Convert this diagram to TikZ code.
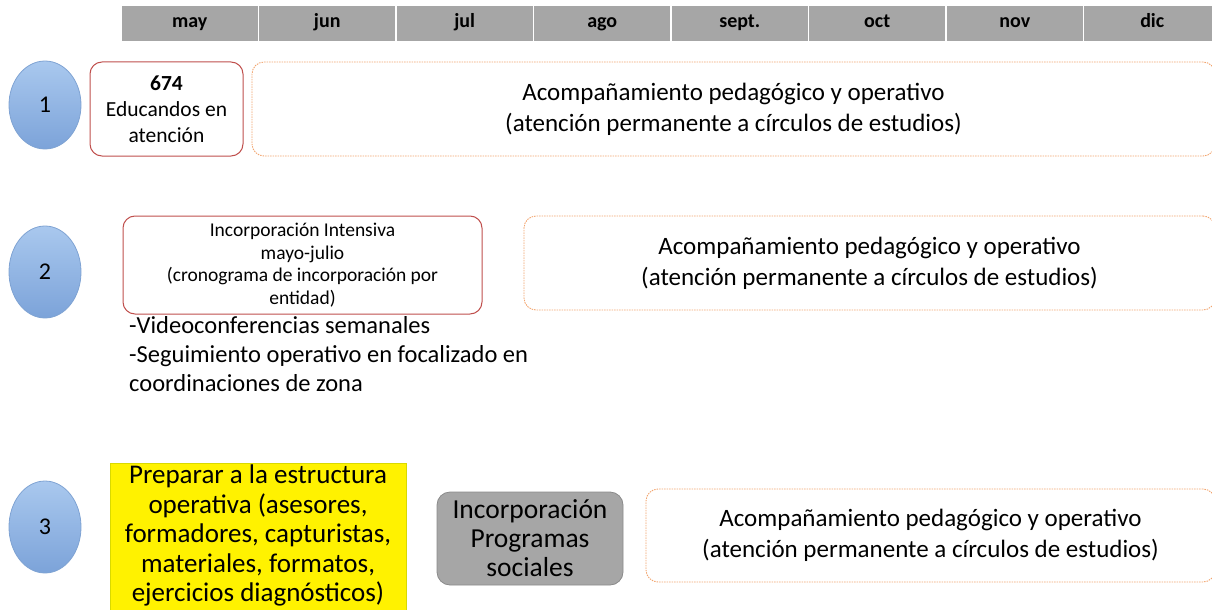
\documentclass[tikz,border=0pt]{standalone}
\usepackage{fontspec}
\setmainfont{Carlito}
\usetikzlibrary{shapes.geometric}
\definecolor{hdr}{HTML}{A6A6A6}
\definecolor{circT}{HTML}{A9C8EE}
\definecolor{circB}{HTML}{7CA3D9}
\definecolor{circL}{HTML}{7FA3D3}
\definecolor{redB}{HTML}{C0504D}
\definecolor{orangeB}{HTML}{F2A46E}
\definecolor{grayF}{HTML}{A6A6A6}
\definecolor{grayL}{HTML}{8A8A8A}
\definecolor{yellowL}{HTML}{D9D900}
\begin{document}
\begin{tikzpicture}[x=1pt,y=-1pt,
  month/.style={fill=hdr, draw=white, line width=1.2pt, minimum width=137.5pt, minimum height=37pt, inner sep=0pt, text height=13pt, text depth=4pt, font=\fontsize{20}{22}\selectfont\bfseries},
  num/.style={ellipse, draw=circL, line width=0.8pt, top color=circT, bottom color=circB, minimum width=72pt, minimum height=88pt, inner sep=0pt, font=\fontsize{24}{28}\selectfont},
  redbox/.style={draw=redB, line width=1pt, rounded corners=12pt, fill=white, align=center, inner sep=0pt},
  dashbox/.style={draw=orangeB, dash pattern=on 1.5pt off 1pt, line width=0.9pt, rounded corners=12pt, align=center, inner sep=0pt, font=\fontsize{25}{31}\selectfont},
  ybox/.style={fill=yellow, draw=yellowL, line width=0.6pt, inner sep=0pt},
  ytext/.style={align=center, inner sep=0pt, font=\fontsize{27}{29.5}\selectfont},
  gbox/.style={fill=grayF, draw=grayL, line width=0.8pt, rounded corners=13pt, align=center, inner sep=0pt, font=\fontsize{27.5}{29}\selectfont},
  notes/.style={align=left, inner sep=0pt, font=\fontsize{24.5}{29}\selectfont}
]
\useasboundingbox (0,0) rectangle (1212,610);
\clip (0,0) rectangle (1212,610);
% header
\foreach \m [count=\i from 0] in {may,jun,jul,ago,sept.,oct,nov,dic}{
  \node[month] (m\i) at ({121+68.75+137.5*\i},23.5) {\m};
}
% row 1
\node[num] (c1) at (45,105) {1};
\node[redbox, minimum width=153pt, minimum height=94pt, font=\fontsize{21.5}{26}\selectfont] (b1) at (166.5,109) {\textbf{674}\\Educandos en\\atención};
\node[dashbox, minimum width=963pt, minimum height=94pt] (d1) at (733.5,109) {Acompañamiento pedagógico y operativo\\(atención permanente a círculos de estudios)};
% row 2
\node[num, minimum height=92pt] (c2) at (45,272) {2};
\node[redbox, minimum width=359pt, minimum height=98pt, font=\fontsize{19.5}{22.5}\selectfont] (b2) at (302.5,265) {Incorporación Intensiva\\mayo-julio\\(cronograma de incorporación por\\entidad)};
\node[dashbox, minimum width=691pt, minimum height=94pt] (d2) at (869.5,263) {Acompañamiento pedagógico y operativo\\(atención permanente a círculos de estudios)};
\node[notes, anchor=north west] (n2) at (129,316) {-Videoconferencias semanales\\-Seguimiento operativo en focalizado en\\coordinaciones de zona};
% row 3
\node[num, minimum height=92pt] (c3) at (45,527) {3};
\node[ybox, minimum width=296pt, minimum height=152pt] (y3) at (258,539) {};
\node[ytext] (y3t) at (258,535.5) {Preparar a la estructura\\operativa (asesores,\\formadores, capturistas,\\materiales, formatos,\\ejercicios diagnósticos)};
\node[gbox, minimum width=186pt, minimum height=93pt] (g3) at (530,538.5) {Incorporación\\Programas\\sociales};
\node[dashbox, minimum width=569pt, minimum height=93pt] (d3) at (930.5,535.5) {Acompañamiento pedagógico y operativo\\(atención permanente a círculos de estudios)};
\end{tikzpicture}
\end{document}
